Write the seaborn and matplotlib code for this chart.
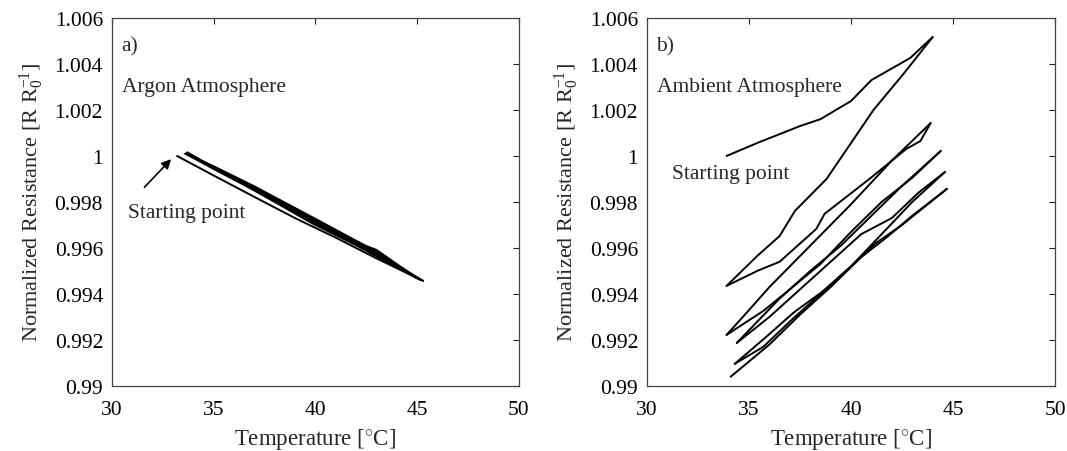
import numpy as np
import pandas as pd
import seaborn as sns
import matplotlib.pyplot as plt
from matplotlib.ticker import FuncFormatter

# ------------------------------------
# Datos (T en °C, R normalizada)
# ------------------------------------
# a) Argon: ciclos de calentamiento / enfriamiento
argon_t = [
    [33.2, 35.0, 37.0, 39.0, 41.0, 43.0, 45.3],
    [45.3, 43.0, 41.0, 39.0, 37.0, 35.0, 33.7],
    [33.7, 35.0, 37.0, 38.5, 40.0, 42.0, 45.0],
    [45.0, 43.0, 41.5, 39.5, 37.0, 35.0, 33.6],
    [33.6, 35.5, 37.5, 39.0, 41.0, 43.5, 45.2],
    [45.2, 43.0, 41.0, 38.5, 36.5, 35.0, 33.8],
    [33.8, 35.5, 37.0, 39.5, 41.5, 43.0, 44.9],
    [44.9, 43.5, 41.0, 39.0, 37.5, 35.5, 33.7],
]
argon_r = [
    [1.00000, 0.99915, 0.99822, 0.99730, 0.99645, 0.99555, 0.99457],
    [0.99457, 0.99580, 0.99678, 0.99772, 0.99862, 0.99945, 1.00015],
    [1.00015, 0.99950, 0.99850, 0.99775, 0.99700, 0.99612, 0.99468],
    [0.99468, 0.99585, 0.99655, 0.99750, 0.99868, 0.99955, 1.00010],
    [1.00010, 0.99920, 0.99828, 0.99758, 0.99664, 0.99548, 0.99460],
    [0.99460, 0.99575, 0.99670, 0.99790, 0.99880, 0.99945, 1.00008],
    [1.00008, 0.99925, 0.99858, 0.99725, 0.99640, 0.99592, 0.99475],
    [0.99475, 0.99550, 0.99672, 0.99760, 0.99832, 0.99930, 1.00012],
]

# b) Ambiente: ciclos con deriva
ambient_t = [
    [33.9, 35.5, 37.5, 38.5, 40.0, 41.0, 42.9, 44.0],
    [44.0, 42.6, 41.1, 38.8, 37.25, 36.5, 35.4, 33.9],
    [33.9, 35.4, 36.5, 38.3, 38.7, 40.9, 42.7, 43.4, 43.9],
    [43.9, 42.0, 40.0, 38.0, 36.0, 34.8, 33.9],
    [33.9, 35.7, 37.0, 38.5, 40.0, 41.5, 43.0, 44.4],
    [44.4, 42.5, 41.0, 39.5, 38.0, 36.5, 35.3, 34.4],
    [34.4, 36.0, 37.5, 39.0, 40.5, 42.0, 43.3, 44.6],
    [44.6, 43.0, 41.5, 40.0, 38.5, 37.0, 35.7, 34.3],
    [34.3, 35.8, 37.2, 38.6, 40.0, 41.2, 42.5, 44.7],
    [44.7, 43.0, 41.8, 40.5, 39.0, 37.5, 36.0, 34.1],
]
ambient_r = [
    [1.00000, 1.00060, 1.00130, 1.00160, 1.00239, 1.00330, 1.00426, 1.00517],
    [1.00517, 1.00360, 1.00200, 0.99900, 0.99761, 0.99652, 0.99565, 0.99435],
    [0.99435, 0.99500, 0.99540, 0.99683, 0.99748, 0.99900, 1.00030, 1.00065, 1.00143],
    [1.00143, 0.99980, 0.99790, 0.99610, 0.99430, 0.99310, 0.99222],
    [0.99222, 0.99326, 0.99420, 0.99530, 0.99670, 0.99800, 0.99905, 1.00022],
    [1.00022, 0.99870, 0.99740, 0.99610, 0.99500, 0.99380, 0.99270, 0.99187],
    [0.99187, 0.99300, 0.99420, 0.99540, 0.99660, 0.99730, 0.99840, 0.99930],
    [0.99930, 0.99800, 0.99660, 0.99520, 0.99400, 0.99280, 0.99170, 0.99096],
    [0.99096, 0.99210, 0.99320, 0.99410, 0.99520, 0.99620, 0.99700, 0.99857],
    [0.99857, 0.99740, 0.99650, 0.99560, 0.99430, 0.99310, 0.99180, 0.99040],
]

x_ticks = [30, 35, 40, 45, 50]
y_ticks = [0.99, 0.992, 0.994, 0.996, 0.998, 1.0, 1.002, 1.004, 1.006]


def to_frame(ts, rs):
    rows = []
    for i, (t, r) in enumerate(zip(ts, rs)):
        for a, b in zip(t, r):
            rows.append({"sweep": i, "T": a, "R": b})
    return pd.DataFrame(rows)


df_argon = to_frame(argon_t, argon_r)
df_ambient = to_frame(ambient_t, ambient_r)

# ------------------------------------
# Estilo
# ------------------------------------
sns.set_style("white")
plt.rcParams["font.family"] = ["Liberation Serif", "DejaVu Serif"]
plt.rcParams["mathtext.fontset"] = "custom"
plt.rcParams["mathtext.rm"] = "Liberation Serif"
plt.rcParams["mathtext.it"] = "Liberation Serif:italic"

fig = plt.figure(figsize=(10.67, 4.52), dpi=100)
ax1 = fig.add_axes([0.105, 0.144, 0.381, 0.814])
ax2 = fig.add_axes([0.6064, 0.144, 0.3824, 0.814])

for ax, df in [(ax1, df_argon), (ax2, df_ambient)]:
    sns.lineplot(data=df, x="T", y="R", units="sweep", estimator=None,
                 sort=False, color="black", linewidth=1.4, ax=ax)
    ax.set_xlim(30, 50)
    ax.set_ylim(0.99, 1.006)
    ax.set_xticks(x_ticks)
    ax.set_yticks(y_ticks)
    ax.yaxis.set_major_formatter(FuncFormatter(lambda v, p: f"{v:g}"))
    ax.tick_params(direction="in", length=4, width=0.8, top=True, right=True,
                   labelsize=15.5, colors="#222222", labelcolor="black")
    ax.tick_params(axis="x", pad=10)
    ax.tick_params(axis="y", pad=6.5)
    for s in ax.spines.values():
        s.set_color("#444444")
        s.set_linewidth(0.9)
    ax.set_xlabel("Temperature [$^{\\circ}$C]", fontsize=16.5, labelpad=5)
    ax.set_ylabel("Normalized Resistance [R R$_0^{-1}$]", fontsize=16, labelpad=6)

# Textos
ax1.text(30.45, 1.0048, "a)", fontsize=15.5, va="center")
ax1.text(30.5, 1.0030, "Argon Atmosphere", fontsize=15.5, va="center")
ax1.text(30.8, 0.99755, "Starting point", fontsize=15.5, va="center")
ax1.annotate("", xy=(33.0, 0.99995), xytext=(31.5, 0.99855),
             arrowprops=dict(arrowstyle="-|>", color="black", lw=1.2,
                             mutation_scale=14))

ax2.text(30.45, 1.0048, "b)", fontsize=15.5, va="center")
ax2.text(30.5, 1.0030, "Ambient Atmosphere", fontsize=15.5, va="center")
ax2.text(31.2, 0.99925, "Starting point", fontsize=15.5, va="center")

plt.savefig("out.png", dpi=100)
plt.clf()
